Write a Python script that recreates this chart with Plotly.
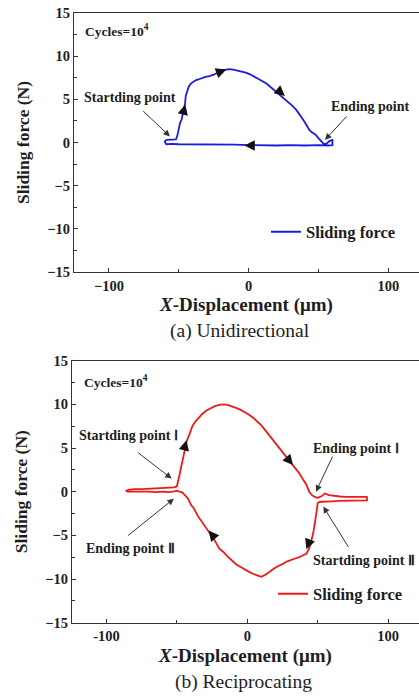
import plotly.graph_objects as go

# ---------------- data ----------------
# (a) Unidirectional loop
uni_x = [-59, -55, -52, -51, -50, -49, -48, -47.5, -46.5, -45.5, -45, -44, -43, -41.5, -40, -38, -36, -34,
         -31, -28, -25, -22, -19, -16, -14, -11, -8, -5, -2, 1, 4, 7, 10, 13, 16, 19, 22, 25, 28, 31, 34,
         36, 38, 40, 42, 43.5, 45, 46.5, 48, 50, 52, 54, 56, 58, 60, 60, 57, 50, 40, 30, 20, 10, 0, -10,
         -20, -30, -40, -50, -55, -59, -60, -59]
uni_y = [0.3, 0.3, 0.35, 0.8, 1.5, 2.3, 2.6, 3.0, 3.8, 4.5, 5.4, 6.0, 6.4, 6.8, 7.0, 7.2, 7.3, 7.45,
         7.6, 7.7, 7.85, 8.1, 8.35, 8.45, 8.5, 8.45, 8.35, 8.25, 8.1, 7.9, 7.65, 7.4, 7.1, 6.8, 6.4, 6.0,
         5.6, 5.2, 4.8, 4.3, 3.8, 3.4, 2.9, 2.4, 1.8, 1.45, 1.2, 1.0, 0.9, 0.5, 0.1, -0.2, -0.1, 0.2, 0.3,
         -0.3, -0.35, -0.3, -0.35, -0.3, -0.35, -0.35, -0.3, -0.25, -0.25, -0.2, -0.25, -0.2, -0.15, -0.2,
         0.1, 0.3]

# (b) Reciprocating loop
rec_x = [-85, -80, -75, -70, -65, -60, -55, -52, -50, -49, -48, -47, -46, -45, -44, -43, -41, -39, -37,
         -35, -32, -29, -26, -23, -20, -17, -14, -11, -8, -5, -2, 1, 4, 7, 10, 13, 16, 19, 22, 25, 28, 31,
         34, 37, 40, 42, 44, 46, 48, 50, 53, 55, 58, 62, 66, 70, 75, 80, 85,
         85, 80, 75, 70, 65, 60, 56, 53, 51, 50, 49.5, 49, 48.5, 48, 47, 46, 45, 44, 43, 42, 40, 37, 34,
         31, 28, 25, 22, 19, 16, 13, 10, 7, 4, 1, -2, -5, -8, -11, -14, -17, -20, -23, -26, -29, -32, -35,
         -38, -40, -42, -44, -46, -48, -50, -53, -56, -60, -65, -70, -75, -80, -85, -86, -85]
rec_y = [0.2, 0.3, 0.3, 0.35, 0.4, 0.4, 0.45, 0.5, 0.6, 1.2, 2.0, 2.8, 3.5, 4.3, 5.0, 5.8, 6.6, 7.5,
         8.0, 8.4, 8.9, 9.3, 9.55, 9.8, 9.95, 10.0, 9.95, 9.8, 9.6, 9.4, 9.15, 8.85, 8.5, 8.1, 7.6, 7.0,
         6.4, 5.8, 5.1, 4.5, 3.9, 3.3, 2.8, 2.1, 1.3, 0.8, 0.0, -0.4, -0.6, -0.7, -0.5, -0.2, -0.4, -0.5,
         -0.55, -0.6, -0.6, -0.6, -0.6,
         -1.0, -1.0, -1.0, -1.05, -1.05, -1.1, -1.1, -1.15, -1.2, -1.3, -2.0, -2.8, -3.3, -3.6, -4.6, -5.4,
         -6.0, -6.5, -6.9, -7.1, -7.25, -7.5, -7.65, -7.8, -8.0, -8.3, -8.5, -8.8, -9.2, -9.5, -9.75,
         -9.6, -9.4, -9.15, -8.9, -8.6, -8.3, -7.9, -7.4, -6.9, -6.5, -5.6, -4.9, -4.2, -3.5, -2.8, -1.9,
         -1.5, -0.8, -0.4, -0.1, 0.0, 0.1, 0.0, -0.05, 0.0, -0.05, 0.0, 0.0, 0.05, 0.0, 0.1, 0.2]

# axis ticks
y_tickvals = [-15, -10, -5, 0, 5, 10, 15]
y_ticktext = ["\u221215", "\u221210", "\u22125", "0", "5", "10", "15"]
y_minor = [-12.5, -7.5, -2.5, 2.5, 7.5, 12.5]
x_tickvals = [-100, 0, 100]
xa_ticktext = ["\u2212100", "0", "100"]
xb_ticktext = ["-100", "0", "100"]
x_minor = [-50, 50]

# direction arrows on the curves: (tip x, tip y, pixel dx, pixel dy of tail)
uni_dir = [(-45.3, 4.4, -2, 8), (-16, 8.45, -8, 3), (26, 5.4, -6, -5), (-3, -0.35, 8, 0)]
rec_dir = [(-43.2, 5.9, -2, 8), (32.5, 3.05, -5, -6), (42.0, -6.6, 3, -8), (-27.5, -4.45, 5, 6)]

# labelled pointers: (text, text x, text y, tail x, tail y, tip x, tip y)
uni_labels = [("Startding point", -84.9, 5.2, -76.5, 3.8, -56.3, 0.7),
              ("Ending point", 87.6, 4.2, 71.2, 3.2, 54.7, 0.3)]
rec_labels = [("Startding point \u2160", -84.7, 6.4, -78.6, 4.6, -53.7, 1.5),
              ("Ending point \u2161", -83.0, -6.45, -85.7, -5.15, -52.1, -0.8),
              ("Ending point \u2160", 76.9, 5.0, 61.1, 4.2, 48.8, 0.0),
              ("Startding point \u2161", 82.9, -7.9, 72.5, -6.5, 54.0, -1.7)]

# ---------------- figure ----------------
W, H = 419, 696
FONT = "Liberation Serif"
AX = "#333333"
TXT = "#1e1e1e"

fig = go.Figure()
fig.add_trace(go.Scatter(x=uni_x, y=uni_y, mode="lines", name="<b>Sliding force</b>",
                         line=dict(color="#1c1ce0", width=1.8), xaxis="x", yaxis="y",
                         legend="legend"))
fig.add_trace(go.Scatter(x=rec_x, y=rec_y, mode="lines", name="<b>Sliding force</b>",
                         line=dict(color="#ee1a1a", width=1.8), xaxis="x2", yaxis="y2",
                         legend="legend2"))


def px_x(p):
    return p / W


def px_y(p):
    return 1 - p / H


def bold(lst):
    return ["<b>" + t + "</b>" for t in lst]


def xaxis(domain_l, rng, ticktext, anchor):
    return dict(domain=[px_x(domain_l), 1], range=rng, anchor=anchor, automargin=False,
                showline=True, linecolor=AX, linewidth=1.3, mirror=True,
                ticks="inside", ticklen=4, tickwidth=1.2, tickcolor=AX,
                tickmode="array", tickvals=x_tickvals, ticktext=bold(ticktext),
                minor=dict(tickmode="array", tickvals=x_minor, ticks="inside", ticklen=3,
                           tickwidth=1, tickcolor=AX),
                showgrid=False, zeroline=False,
                tickfont=dict(family=FONT, size=14.5, color=TXT),
                title=dict(text="<b><i>X</i>-Displacement (\u03bcm)</b>", standoff=5,
                           font=dict(family=FONT, size=19, color=TXT)))


def yaxis(top, bottom, anchor):
    return dict(domain=[px_y(bottom), px_y(top)], range=[-15, 15], anchor=anchor, automargin=False,
                showline=True, linecolor=AX, linewidth=1.3, mirror=False,
                ticks="inside", ticklen=4, tickwidth=1.2, tickcolor=AX,
                tickmode="array", tickvals=y_tickvals, ticktext=bold(y_ticktext),
                minor=dict(tickmode="array", tickvals=y_minor, ticks="inside", ticklen=3,
                           tickwidth=1, tickcolor=AX),
                showgrid=False, zeroline=False,
                tickfont=dict(family=FONT, size=14.5, color=TXT),
                title=dict(text="<b>Sliding force (N)</b>", standoff=13,
                           font=dict(family=FONT, size=17.5, color=TXT)))


fig.update_layout(
    width=W, height=H, margin=dict(l=0, r=0, t=0, b=0, autoexpand=False),
    paper_bgcolor="white", plot_bgcolor="white",
    xaxis=xaxis(74, [-125, 122], xa_ticktext, "y"),
    yaxis=yaxis(13, 272, "x"),
    xaxis2=xaxis(72, [-124.5, 122], xb_ticktext, "y2"),
    yaxis2=yaxis(360.7, 622.7, "x2"),
    showlegend=True,
    legend=dict(x=px_x(266), y=px_y(232), xanchor="left", yanchor="middle",
                bgcolor="rgba(0,0,0,0)", itemwidth=30, tracegroupgap=0,
                font=dict(family=FONT, size=16.5, color=TXT)),
    legend2=dict(x=px_x(273), y=px_y(594), xanchor="left", yanchor="middle",
                 bgcolor="rgba(0,0,0,0)", itemwidth=30, tracegroupgap=0,
                 font=dict(family=FONT, size=16.5, color=TXT)),
)

anns = []
for xr, yr, dirs, labels, cyc in [("x", "y", uni_dir, uni_labels, (-118.5, 13.0)),
                                   ("x2", "y2", rec_dir, rec_labels, (-117.4, 12.6))]:
    anns.append(dict(xref=xr, yref=yr, x=cyc[0], y=cyc[1], xanchor="left", yanchor="middle",
                     showarrow=False, text="<b>Cycles=10<sup>4</sup></b>",
                     font=dict(family=FONT, size=13.5, color=TXT)))
    for tx, ty, dx, dy in dirs:
        anns.append(dict(xref=xr, yref=yr, x=tx, y=ty, ax=dx, ay=dy, text="",
                         showarrow=True, arrowhead=2, arrowsize=1.6, arrowwidth=1.3,
                         arrowcolor="#111", standoff=0))
    for text, lx, ly, t0x, t0y, t1x, t1y in labels:
        anns.append(dict(xref=xr, yref=yr, x=lx, y=ly, showarrow=False,
                         xanchor="center", yanchor="middle",
                         text="<b>" + text + "</b>",
                         font=dict(family=FONT, size=14, color=TXT)))
        anns.append(dict(xref=xr, yref=yr, axref=xr, ayref=yr, x=t1x, y=t1y, ax=t0x, ay=t0y,
                         text="", showarrow=True, arrowhead=2, arrowsize=1.3, arrowwidth=1,
                         arrowcolor="#333", standoff=0))

anns.append(dict(xref="paper", yref="paper", x=px_x(240), y=px_y(331), showarrow=False,
                 xanchor="center", yanchor="middle",
                 text="(a) Unidirectional", font=dict(family=FONT, size=19.5, color=TXT)))
anns.append(dict(xref="paper", yref="paper", x=px_x(243), y=px_y(682), showarrow=False,
                 xanchor="center", yanchor="middle",
                 text="(b) Reciprocating", font=dict(family=FONT, size=19.5, color=TXT)))
fig.update_layout(annotations=anns)

fig.write_html("out.html", config={"displayModeBar": False},
               post_script="document.body.style.margin='0px';")
